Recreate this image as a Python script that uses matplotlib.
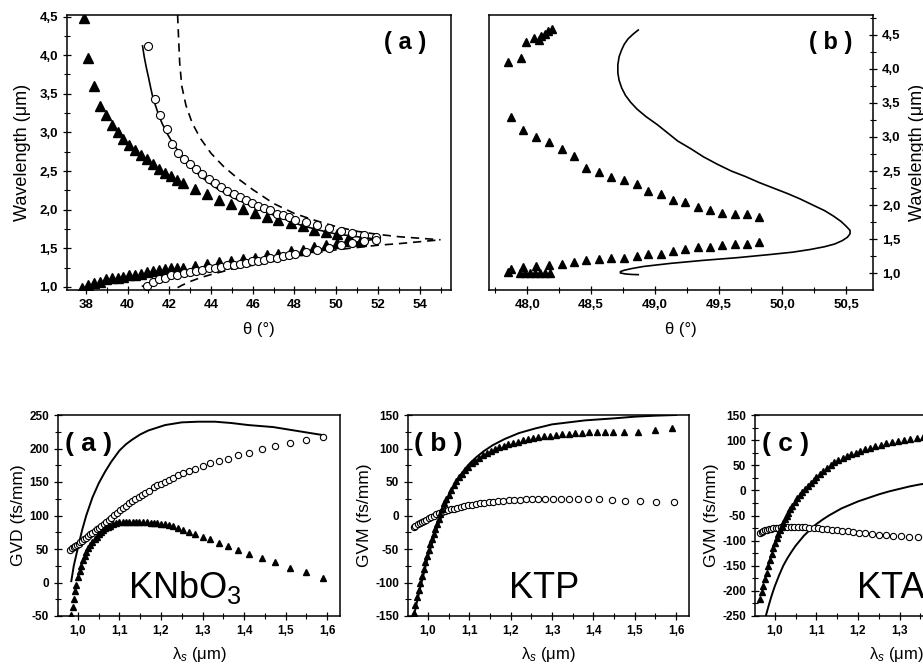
import matplotlib
matplotlib.use('Agg')
import matplotlib.pyplot as plt
from matplotlib.ticker import MultipleLocator, FuncFormatter

plt.rcParams['font.family'] = ['Liberation Sans', 'DejaVu Sans']
plt.rcParams['mathtext.fontset'] = 'custom'
plt.rcParams['mathtext.rm'] = 'Liberation Sans'
plt.rcParams['mathtext.it'] = 'Liberation Sans:italic'
plt.rcParams['mathtext.bf'] = 'Liberation Sans:bold'

# ---------------- top (a): tuning curves ----------------
ta_tri_up_th = [37.92, 38.11, 38.40, 38.67, 38.96, 39.25, 39.52, 39.79, 40.08, 40.36, 40.64, 40.92, 41.23,
                41.51, 41.80, 42.09, 42.39, 42.68, 43.24, 43.80, 44.40, 44.98, 45.54, 46.12, 46.67, 47.23,
                47.83, 48.39, 48.95, 49.51, 50.06, 50.62, 51.18]
ta_tri_up_wl = [4.48, 3.96, 3.60, 3.34, 3.23, 3.10, 3.00, 2.92, 2.84, 2.77, 2.71, 2.65, 2.59, 2.53, 2.48,
                2.43, 2.38, 2.34, 2.27, 2.20, 2.13, 2.07, 2.01, 1.96, 1.91, 1.86, 1.83, 1.79, 1.74, 1.71,
                1.68, 1.64, 1.61]
ta_tri_lo_th = [37.84, 38.11, 38.40, 38.67, 38.96, 39.25, 39.52, 39.79, 40.08, 40.36, 40.64, 40.92, 41.23,
                41.51, 41.80, 42.09, 42.39, 42.68, 43.24, 43.80, 44.40, 44.98, 45.54, 46.12, 46.67, 47.23,
                47.83, 48.39, 48.95, 49.51, 50.06, 50.62, 51.18]
ta_tri_lo_wl = [0.99, 1.02, 1.05, 1.07, 1.10, 1.11, 1.12, 1.13, 1.15, 1.16, 1.17, 1.19, 1.20, 1.22, 1.23,
                1.24, 1.25, 1.25, 1.27, 1.30, 1.32, 1.34, 1.36, 1.38, 1.41, 1.43, 1.46, 1.48, 1.52, 1.54,
                1.57, 1.59, 1.60]
ta_circ_up_th = [41.00, 41.31, 41.56, 41.87, 42.12, 42.44, 42.71, 43.00, 43.30, 43.59, 43.91, 44.20, 44.50,
                 44.79, 45.08, 45.38, 45.67, 45.96, 46.26, 46.55, 46.84, 47.14, 47.43, 47.72, 48.02, 48.55,
                 49.10, 49.66, 50.21, 50.77, 51.33, 51.89]
ta_circ_up_wl = [4.12, 3.43, 3.23, 3.05, 2.85, 2.73, 2.65, 2.59, 2.53, 2.46, 2.40, 2.35, 2.29, 2.24, 2.20,
                 2.16, 2.12, 2.09, 2.05, 2.02, 1.99, 1.95, 1.93, 1.90, 1.87, 1.84, 1.80, 1.76, 1.73, 1.70,
                 1.67, 1.64]
ta_circ_lo_th = [40.95, 41.24, 41.51, 41.80, 42.10, 42.39, 42.71, 43.00, 43.30, 43.59, 43.91, 44.20, 44.50,
                 44.79, 45.08, 45.38, 45.67, 45.96, 46.26, 46.55, 46.84, 47.14, 47.43, 47.72, 48.02, 48.55,
                 49.10, 49.66, 50.21, 50.77, 51.33, 51.89]
ta_circ_lo_wl = [1.01, 1.06, 1.10, 1.12, 1.15, 1.16, 1.18, 1.19, 1.21, 1.22, 1.24, 1.25, 1.26, 1.28, 1.29,
                 1.30, 1.31, 1.33, 1.34, 1.35, 1.37, 1.38, 1.40, 1.41, 1.42, 1.45, 1.48, 1.51, 1.54, 1.57,
                 1.60, 1.61]
ta_line_th = [40.72, 40.80, 40.90, 41.00, 41.10, 41.19, 41.30, 41.45, 41.65, 41.91, 42.15, 42.40, 42.87,
              43.50, 44.31, 45.10, 45.91, 46.70, 47.50, 48.30, 49.10, 49.90, 50.69, 51.30, 51.89, 51.00,
              49.91, 48.31, 46.71, 45.11, 43.51, 42.50, 41.91, 41.30, 40.72]
ta_line_wl = [4.12, 3.98, 3.84, 3.72, 3.59, 3.48, 3.38, 3.26, 3.12, 2.98, 2.87, 2.77, 2.60, 2.43, 2.27,
              2.15, 2.05, 1.96, 1.88, 1.80, 1.74, 1.69, 1.66, 1.64, 1.62, 1.58, 1.53, 1.43, 1.35, 1.28,
              1.21, 1.16, 1.13, 1.07, 1.01]
ta_dash_up_th = [42.40, 42.45, 42.50, 42.60, 42.80, 43.10, 43.50, 44.00, 44.60, 45.30, 46.00, 47.00, 48.00,
                 49.00, 50.00, 51.00, 52.00, 53.00, 54.00, 55.00]
ta_dash_up_wl = [4.52, 4.20, 3.90, 3.60, 3.35, 3.12, 2.92, 2.73, 2.56, 2.40, 2.26, 2.08, 1.95, 1.86, 1.78,
                 1.72, 1.68, 1.65, 1.63, 1.61]
ta_dash_lo_th = [42.40, 42.60, 43.00, 43.50, 44.00, 45.00, 46.00, 47.00, 48.00, 49.00, 50.00, 51.00, 52.00,
                 53.00, 54.00, 55.00]
ta_dash_lo_wl = [0.99, 1.02, 1.07, 1.12, 1.16, 1.23, 1.28, 1.33, 1.39, 1.44, 1.48, 1.51, 1.54, 1.56, 1.585,
                 1.61]

# ---------------- top (b) ----------------
tb_tri_top_th = [47.85, 47.95, 47.99, 48.05, 48.09, 48.11, 48.14, 48.16, 48.19]
tb_tri_top_wl = [4.10, 4.16, 4.39, 4.45, 4.42, 4.48, 4.51, 4.55, 4.59]
tb_tri_mid_th = [47.87, 47.97, 48.07, 48.17, 48.27, 48.37, 48.46, 48.56, 48.66, 48.76, 48.86, 48.95, 49.05,
                 49.14, 49.24, 49.34, 49.43, 49.53, 49.63, 49.72, 49.82]
tb_tri_mid_wl = [3.29, 3.10, 3.00, 2.93, 2.83, 2.72, 2.54, 2.48, 2.42, 2.37, 2.31, 2.21, 2.16, 2.08, 2.04,
                 1.97, 1.93, 1.89, 1.87, 1.87, 1.83]
tb_tri_low_th = [47.87, 47.97, 48.07, 48.17, 48.27, 48.37, 48.46, 48.56, 48.66, 48.76, 48.86, 48.95, 49.05,
                 49.14, 49.24, 49.34, 49.43, 49.53, 49.63, 49.72, 49.82]
tb_tri_low_wl = [1.07, 1.09, 1.11, 1.12, 1.14, 1.16, 1.20, 1.21, 1.22, 1.23, 1.25, 1.28, 1.29, 1.33, 1.35,
                 1.38, 1.39, 1.42, 1.43, 1.43, 1.46]
tb_tri_bot_th = [47.85, 47.94, 47.98, 48.02, 48.06, 48.10, 48.14, 48.18]
tb_tri_bot_wl = [1.02, 1.01, 1.00, 1.00, 1.00, 1.00, 1.00, 1.00]
tb_line_th = [48.87, 48.83, 48.79, 48.76, 48.74, 48.72, 48.71, 48.71, 48.72, 48.74, 48.77, 48.81, 48.86,
              48.93, 49.02, 49.10, 49.18, 49.28, 49.38, 49.49, 49.60, 49.71, 49.82, 49.93, 50.04, 50.14,
              50.24, 50.33, 50.40, 50.46, 50.50, 50.53, 50.53, 50.51, 50.47, 50.41, 50.33, 50.22, 50.08,
              49.90, 49.65, 49.38, 49.12, 48.91, 48.82, 48.76, 48.73, 48.73, 48.77, 48.82, 48.87]
tb_line_wl = [4.57, 4.51, 4.44, 4.36, 4.28, 4.18, 4.06, 3.94, 3.83, 3.72, 3.61, 3.51, 3.41, 3.30, 3.18,
              3.06, 2.94, 2.83, 2.71, 2.60, 2.50, 2.42, 2.33, 2.25, 2.17, 2.09, 2.00, 1.92, 1.84, 1.76,
              1.69, 1.63, 1.58, 1.53, 1.48, 1.43, 1.39, 1.35, 1.31, 1.275, 1.23, 1.19, 1.145, 1.10, 1.07,
              1.045, 1.025, 1.005, 0.99, 0.983, 0.98]

# ---------------- bottom (a) KNbO3 ----------------
kn_tri_lam = [0.984, 0.987, 0.990, 0.993, 0.996, 1.000, 1.004, 1.008, 1.012, 1.016, 1.020, 1.025, 1.030,
              1.035, 1.040, 1.045, 1.050, 1.055, 1.060, 1.066, 1.072, 1.078, 1.085, 1.092, 1.100, 1.108,
              1.116, 1.124, 1.132, 1.140, 1.148, 1.157, 1.166, 1.175, 1.182, 1.190, 1.199, 1.209, 1.219,
              1.229, 1.241, 1.253, 1.268, 1.283, 1.300, 1.319, 1.340, 1.362, 1.386, 1.413, 1.443, 1.475,
              1.510, 1.548, 1.590]
kn_tri_gvd = [-48, -36, -24, -13, -3, 8, 17, 25, 33, 39, 45, 51, 56, 61, 65, 68, 72, 75, 78, 81, 83, 85, 87,
              89, 90, 91, 91, 91, 91, 91, 91, 90, 90, 89, 89, 89, 88, 87, 86, 84, 82, 79, 75, 72, 68, 65,
              59, 55, 49, 43, 36, 30, 22, 15, 6]
kn_circ_lam = [0.982, 0.986, 0.990, 0.994, 0.998, 1.002, 1.006, 1.010, 1.015, 1.020, 1.025, 1.030, 1.035,
               1.040, 1.045, 1.050, 1.056, 1.062, 1.068, 1.074, 1.080, 1.087, 1.094, 1.101, 1.108, 1.115,
               1.122, 1.130, 1.138, 1.146, 1.154, 1.162, 1.170, 1.182, 1.190, 1.199, 1.209, 1.219, 1.229,
               1.241, 1.253, 1.268, 1.283, 1.300, 1.319, 1.340, 1.362, 1.386, 1.413, 1.443, 1.475, 1.510,
               1.548, 1.590]
kn_circ_gvd = [49, 51, 53, 55, 56, 58, 60, 62, 64.5, 67, 69.5, 72, 74.5, 77, 79.5, 82, 85, 88, 91, 94, 97,
               100.5, 104, 107.5, 111, 114.5, 118, 121.5, 125, 128, 131, 134, 137, 142, 145, 147, 150, 153,
               156, 160, 163, 166, 170, 174, 178, 182, 185, 190, 194, 199, 204, 208, 212, 217]
kn_line_lam = [0.984, 0.990, 1.000, 1.010, 1.020, 1.035, 1.050, 1.065, 1.080, 1.100, 1.115, 1.130, 1.150,
               1.170, 1.190, 1.210, 1.230, 1.250, 1.290, 1.330, 1.370, 1.410, 1.470, 1.510, 1.550, 1.590]
kn_line_gvd = [2, 25, 52, 78, 100, 127, 148, 165, 180, 197, 206, 213, 221, 227, 231, 235, 237, 239, 240,
               240, 238, 235, 232, 228, 224, 220]

# ---------------- bottom (b) KTP ----------------
ktp_tri_lam = [0.966, 0.970, 0.974, 0.978, 0.982, 0.986, 0.990, 0.994, 0.998, 1.002, 1.006, 1.010, 1.014,
               1.018, 1.022, 1.026, 1.030, 1.035, 1.040, 1.045, 1.050, 1.056, 1.062, 1.068, 1.075, 1.082,
               1.090, 1.098, 1.106, 1.115, 1.124, 1.133, 1.142, 1.152, 1.162, 1.172, 1.183, 1.194, 1.205,
               1.217, 1.229, 1.241, 1.254, 1.267, 1.281, 1.295, 1.310, 1.325, 1.340, 1.356, 1.373, 1.390,
               1.408, 1.427, 1.447, 1.475, 1.508, 1.550, 1.590]
ktp_tri_gvm = [-145, -133, -122, -111, -100, -90, -80, -70, -61, -52, -43, -35, -27, -20, -12, -5, 2, 9, 18,
               25, 31, 38, 45, 51, 57, 62, 68, 73, 78, 82, 86, 90, 93, 96, 99, 102, 104, 106, 108, 110, 112,
               114, 115, 117, 118, 119, 120, 121, 122, 122.5, 123, 124, 124, 124.5, 125, 125, 125, 128, 130]
ktp_circ_lam = [0.966, 0.970, 0.975, 0.980, 0.985, 0.990, 0.996, 1.002, 1.008, 1.014, 1.020, 1.027, 1.034,
                1.041, 1.048, 1.055, 1.063, 1.071, 1.079, 1.088, 1.097, 1.106, 1.116, 1.126, 1.136, 1.147,
                1.158, 1.170, 1.182, 1.195, 1.208, 1.222, 1.236, 1.251, 1.267, 1.284, 1.302, 1.321, 1.341,
                1.363, 1.387, 1.414, 1.444, 1.477, 1.513, 1.552, 1.594]
ktp_circ_gvm = [-17, -15, -13, -11, -9, -8, -6, -4, -2, 0, 1.5, 3, 4.5, 6, 7.5, 9, 10, 11.5, 12.5, 14, 15,
                16, 17, 18, 19, 20, 20.5, 21, 22, 22.5, 23, 23.5, 24, 24, 24.5, 25, 25, 25, 25, 25, 24.5,
                24, 23, 22, 21, 20.5, 19.5]
ktp_line_lam = [0.966, 0.980, 1.000, 1.020, 1.040, 1.052, 1.064, 1.076, 1.090, 1.103, 1.117, 1.135, 1.157,
                1.185, 1.220, 1.260, 1.300, 1.340, 1.380, 1.450, 1.500, 1.550, 1.600]
ktp_line_gvm = [-150, -112, -62, -22, 10, 29, 45, 58, 70, 79, 87, 96, 105, 114, 123, 130, 136, 139, 142,
                145, 147.5, 149, 150]

# ---------------- bottom (c) KTA ----------------
kta_tri_lam = [0.964, 0.968, 0.972, 0.976, 0.980, 0.984, 0.988, 0.992, 0.996, 1.000, 1.004, 1.008, 1.012,
               1.016, 1.020, 1.024, 1.028, 1.032, 1.037, 1.042, 1.048, 1.054, 1.060, 1.066, 1.072, 1.079,
               1.086, 1.093, 1.100, 1.108, 1.116, 1.125, 1.134, 1.143, 1.153, 1.163, 1.173, 1.184, 1.195,
               1.206, 1.218, 1.230, 1.242, 1.255, 1.268, 1.282, 1.296, 1.311, 1.326, 1.341, 1.357, 1.374,
               1.390, 1.410, 1.430, 1.450, 1.480, 1.510, 1.550, 1.590]
kta_tri_gvm = [-216, -203, -190, -177, -164, -151, -138, -126, -115, -104, -95, -87, -79, -71, -64, -57, -51,
               -45, -38, -31, -23, -16, -9, -3, 3, 9, 15, 21, 27, 33, 39, 45, 51, 56, 61, 65, 69, 72, 75,
               78, 82, 85, 88, 91, 94, 96, 99, 101, 103, 105, 107, 109, 110, 112, 113, 115, 117, 119, 121,
               123]
kta_circ_lam = [0.964, 0.968, 0.972, 0.976, 0.980, 0.985, 0.990, 0.996, 1.002, 1.008, 1.015, 1.022, 1.030,
                1.038, 1.046, 1.055, 1.064, 1.073, 1.083, 1.093, 1.103, 1.114, 1.125, 1.137, 1.149, 1.162,
                1.175, 1.189, 1.203, 1.218, 1.234, 1.250, 1.267, 1.285, 1.304, 1.324, 1.345, 1.368, 1.393,
                1.420, 1.450, 1.480, 1.520, 1.560, 1.600]
kta_circ_gvm = [-84, -82, -81, -79, -78, -77, -76, -75, -74.5, -74, -73.5, -73, -73, -73, -73, -73, -73,
                -73.5, -74, -74.5, -75, -76, -77, -78, -79, -80, -81.5, -83, -84, -85.5, -87, -88, -89, -90,
                -91, -92, -93, -94, -95, -96, -97, -98, -99, -100, -101]
kta_line_lam = [0.978, 0.984, 0.990, 0.995, 1.000, 1.010, 1.020, 1.030, 1.040, 1.050, 1.060, 1.070, 1.080,
                1.090, 1.100, 1.115, 1.130, 1.145, 1.160, 1.180, 1.200, 1.225, 1.250, 1.275, 1.300, 1.325,
                1.350, 1.400, 1.500, 1.600]
kta_line_gvm = [-250, -232, -215, -202, -190, -169, -150, -135, -122, -110, -100, -90, -82, -74, -67, -58,
                -50, -43, -36, -29, -22, -15, -8, -2, 3, 8, 12, 18, 28, 35]

W, H = 923, 667
fig = plt.figure(figsize=(W / 100, H / 100), dpi=100)


def rect(l, r, t, b):
    return [l / W, (H - b) / H, (r - l) / W, (b - t) / H]


def comma(fmt):
    return FuncFormatter(lambda v, p: (fmt % v).replace('.', ','))


def style(ax, tick_fs):
    for s in ax.spines.values():
        s.set_linewidth(1.1)
    ax.tick_params(which='major', direction='inout', length=6, width=0.9, labelsize=tick_fs)
    ax.tick_params(which='minor', direction='inout', length=4, width=0.8)
    for lab in ax.get_xticklabels() + ax.get_yticklabels():
        lab.set_fontweight('bold')


tri = dict(ls='none', marker='^', color='black')
circ = dict(ls='none', marker='o', mfc='white', mec='black', mew=0.8)

# top (a)
ax = fig.add_axes(rect(67, 451, 15, 290))
ax.plot(ta_dash_up_th, ta_dash_up_wl, color='black', lw=1.2, ls=(0, (5, 3.5)))
ax.plot(ta_dash_lo_th, ta_dash_lo_wl, color='black', lw=1.2, ls=(0, (5, 3.5)))
ax.plot(ta_line_th, ta_line_wl, color='black', lw=1.2)
ax.plot(ta_tri_up_th, ta_tri_up_wl, ms=6.8, **tri)
ax.plot(ta_tri_lo_th, ta_tri_lo_wl, ms=6.8, **tri)
ax.plot(ta_circ_up_th, ta_circ_up_wl, ms=5.8, **circ)
ax.plot(ta_circ_lo_th, ta_circ_lo_wl, ms=5.8, **circ)
ax.set_xlim(37.1, 55.5)
ax.set_ylim(0.96, 4.52)
ax.xaxis.set_major_locator(MultipleLocator(2))
ax.xaxis.set_minor_locator(MultipleLocator(1))
ax.yaxis.set_major_locator(MultipleLocator(0.5))
ax.yaxis.set_minor_locator(MultipleLocator(0.25))
ax.xaxis.set_major_formatter(FuncFormatter(lambda v, p: '%d' % v))
ax.yaxis.set_major_formatter(comma('%.1f'))
style(ax, 9.5)
ax.set_xlabel('θ (°)', fontsize=12, labelpad=8)
ax.set_ylabel('Wavelength (μm)', fontsize=13, labelpad=6)
ax.text(0.88, 0.9, '( a )', transform=ax.transAxes, fontsize=17, fontweight='bold', ha='center', va='center')

# top (b)
ax = fig.add_axes(rect(489, 873, 15, 290))
ax.plot(tb_line_th, tb_line_wl, color='black', lw=1.2)
ax.plot(tb_tri_top_th, tb_tri_top_wl, ms=6.3, **tri)
ax.plot(tb_tri_mid_th, tb_tri_mid_wl, ms=6.3, **tri)
ax.plot(tb_tri_low_th, tb_tri_low_wl, ms=6.3, **tri)
ax.plot(tb_tri_bot_th, tb_tri_bot_wl, ms=6.3, **tri)
ax.set_xlim(47.70, 50.71)
ax.set_ylim(0.755, 4.79)
ax.yaxis.tick_right()
ax.yaxis.set_label_position('right')
ax.xaxis.set_major_locator(MultipleLocator(0.5))
ax.xaxis.set_minor_locator(MultipleLocator(0.25))
ax.yaxis.set_major_locator(MultipleLocator(0.5))
ax.yaxis.set_minor_locator(MultipleLocator(0.25))
ax.xaxis.set_major_formatter(comma('%.1f'))
ax.yaxis.set_major_formatter(comma('%.1f'))
style(ax, 9.5)
ax.set_xlabel('θ (°)', fontsize=12, labelpad=8)
ax.set_ylabel('Wavelength (μm)', fontsize=13, labelpad=6)
ax.text(0.89, 0.9, '( b )', transform=ax.transAxes, fontsize=17, fontweight='bold', ha='center', va='center')

# bottom panels
bottom = [
    (58, 340, (-50, 250), 'GVD (fs/mm)', '( a )', 'KNbO$_3$', 0.25,
     kn_tri_lam, kn_tri_gvd, kn_circ_lam, kn_circ_gvd, kn_line_lam, kn_line_gvd),
    (408, 689, (-150, 150), 'GVM (fs/mm)', '( b )', 'KTP', 0.36,
     ktp_tri_lam, ktp_tri_gvm, ktp_circ_lam, ktp_circ_gvm, ktp_line_lam, ktp_line_gvm),
    (755, 1037, (-250, 150), 'GVM (fs/mm)', '( c )', 'KTA', 0.36,
     kta_tri_lam, kta_tri_gvm, kta_circ_lam, kta_circ_gvm, kta_line_lam, kta_line_gvm),
]
for l, r, ylim, ylab, tag, name, nx, tx, ty, cx, cy, lx, ly in bottom:
    ax = fig.add_axes(rect(l, r, 415, 616))
    ax.plot(lx, ly, color='black', lw=1.4)
    ax.plot(cx, cy, ms=4.5, **circ)
    ax.plot(tx, ty, ms=5, **tri)
    ax.set_xlim(0.952, 1.631)
    ax.set_ylim(*ylim)
    ax.xaxis.set_major_locator(MultipleLocator(0.1))
    ax.xaxis.set_minor_locator(MultipleLocator(0.05))
    ax.yaxis.set_major_locator(MultipleLocator(50))
    ax.yaxis.set_minor_locator(MultipleLocator(25))
    ax.xaxis.set_major_formatter(comma('%.1f'))
    ax.yaxis.set_major_formatter(FuncFormatter(lambda v, p: '%d' % v))
    style(ax, 8.5)
    ax.set_xlabel('λ$_s$ (μm)', fontsize=12, labelpad=6)
    ax.set_ylabel(ylab, fontsize=12.5, labelpad=2)
    ax.text(0.108, 0.855, tag, transform=ax.transAxes, fontsize=19, fontweight='bold', ha='center', va='center')
    ax.text(nx, 0.09, name, transform=ax.transAxes, fontsize=26, ha='left', va='baseline')

fig.savefig('out.png', dpi=100)
